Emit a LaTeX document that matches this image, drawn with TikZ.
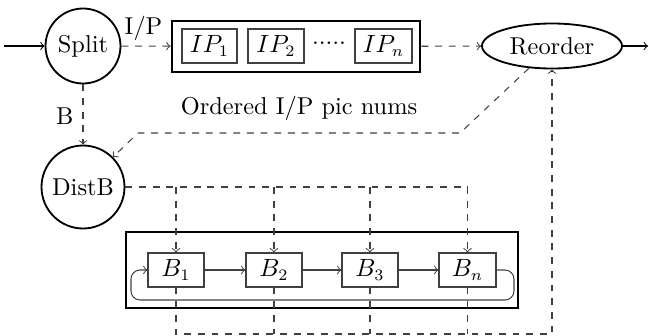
\documentclass[tikz,border=0pt]{standalone}
\usetikzlibrary{shapes.geometric}
\newcommand\pxu{0.4386pt}
\begin{document}
\begin{tikzpicture}[x=0.4386pt,y=-0.4386pt,
  font=\fontsize{10.7pt}{13pt}\selectfont,
  circ/.style={circle,draw,line width=0.8pt,inner sep=0pt},
  outerbox/.style={draw,line width=1.3pt,inner sep=0pt},
  cell/.style={draw=black!75,line width=0.45pt,minimum height=34*\pxu,inner sep=0pt},
  dline/.style={dashed,draw=black!75,line width=0.45pt},
  flow/.style={->,draw=black!75,line width=0.45pt},
  >=to]
\useasboundingbox (0,0) rectangle (649,336);
% top row
\node[circ,minimum size=75*\pxu] (split) at (83,46) {Split};
\node[ellipse,draw,line width=0.8pt,minimum width=140*\pxu,minimum height=45*\pxu,inner sep=0pt] (reorder) at (552,46) {Reorder};
\node[outerbox,minimum width=248*\pxu,minimum height=51*\pxu] (ipbox) at (296,46.5) {};
\node[cell,minimum width=55*\pxu] (ip1) at (209.5,46) {$IP_1$};
\node[cell,minimum width=56*\pxu] (ip2) at (276,46) {$IP_2$};
\node[cell,minimum width=57*\pxu] (ipn) at (383.5,46) {$IP_n$};
\node (dots) at (329,46) {\raisebox{0.5ex}{.....}};
\coordinate (in) at (4,46);
\coordinate (out) at (648,46);
\draw[->,line width=0.45pt] (in) -- (split);
\draw[->,line width=0.45pt] (reorder) -- (out);
\draw[dline,->] (split) -- node[above,pos=0.45,inner sep=2pt] (iplabel) {I/P} (ipbox);
\draw[dline,->] (ipbox) -- (reorder);
% DistB
\node[circ,minimum size=83*\pxu] (distb) at (83,187) {DistB};
\draw[dline,->] (split) -- node[left,pos=0.52,inner sep=4pt] (blabel) {B} (distb);
% ordered path
\coordinate (o1) at (460,133);
\coordinate (o2) at (138,133);
\draw[dline,->] (reorder.-136) -- (o1) -- node[above,pos=0.5,yshift=2pt] (olabel) {Ordered I/P pic nums} (o2) -- (distb.45);
% lower row
\node[outerbox,minimum width=392*\pxu,minimum height=76*\pxu] (bbox) at (322,270) {};
\node[cell,minimum width=56*\pxu] (b1) at (176,270) {$B_1$};
\node[cell,minimum width=56*\pxu] (b2) at (274,270) {$B_2$};
\node[cell,minimum width=56*\pxu] (b3) at (370,270) {$B_3$};
\node[cell,minimum width=57*\pxu] (bn) at (467.5,270) {$B_n$};
\draw[flow] (b1) -- (b2);
\draw[flow] (b2) -- (b3);
\draw[flow] (b3) -- (bn);
\coordinate (lr) at (514,300);
\coordinate (ll) at (131,300);
\draw[flow,rounded corners=9*\pxu] (bn.east) -| (lr) -- (ll) |- (b1.west);
% distribution
\draw[dline] (distb.east) -- (bn.north |- distb.east);
\draw[dline,->] (b1.north |- distb.east) -- (b1.north);
\draw[dline,->] (b2.north |- distb.east) -- (b2.north);
\draw[dline,->] (b3.north |- distb.east) -- (b3.north);
\draw[dline,->] (bn.north |- distb.east) -- (bn.north);
% collection
\coordinate (bot) at (552,334);
\draw[dline,->] (b1.south) |- (bot) -- (reorder.south);
\draw[dline] (b2.south) -- (b2.south |- bot);
\draw[dline] (b3.south) -- (b3.south |- bot);
\draw[dline] (bn.south) -- (bn.south |- bot);
\end{tikzpicture}
\end{document}
